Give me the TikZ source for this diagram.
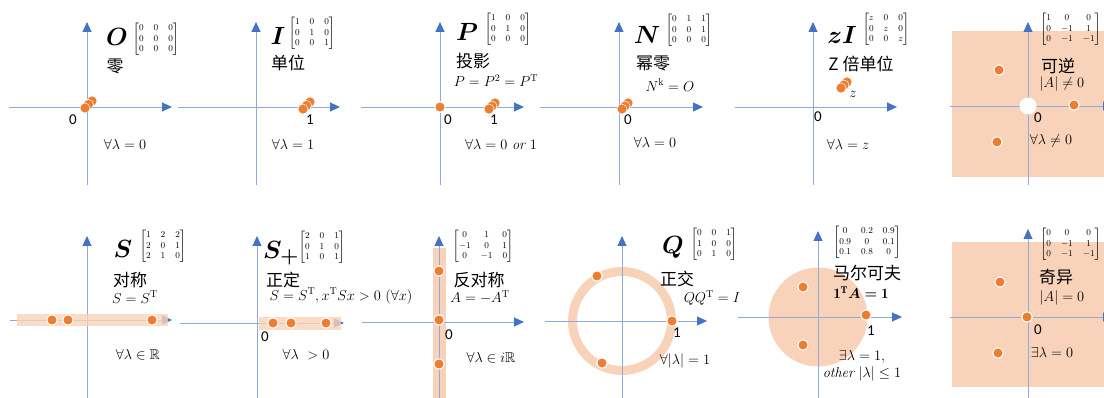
\documentclass[tikz,border=0pt]{standalone}
\usepackage{amsmath,amssymb,bm}
\usepackage{fontspec}
\newfontfamily\cjk{Noto Sans CJK SC}
\newfontfamily\lab{Carlito}
\usetikzlibrary{arrows.meta}
\definecolor{axline}{HTML}{8FAADC}
\definecolor{axtip}{HTML}{4472C4}
\definecolor{dotor}{HTML}{ED7D31}
\definecolor{peach}{HTML}{F8D3BA}
\tikzset{
 ax/.style={draw=axline, line width=0.9pt},
 axa/.style={ax, -{Triangle[length=10pt,width=9pt,color=axtip]}},
 eig/.style={circle, fill=dotor, draw=white, line width=1.1pt, minimum size=10.5pt, inner sep=0pt},
 eigc/.style={circle, fill=dotor, draw=white, line width=0.5pt, minimum size=10pt, inner sep=0pt},
 hole/.style={circle, fill=white, minimum size=17pt, inner sep=0pt},
 big/.style={font=\fontsize{30}{31}\selectfont, inner sep=0pt},
 mat/.style={font=\fontsize{9}{10.5}\selectfont, inner sep=0pt},
 zh/.style={font=\fontsize{17}{18}\selectfont\cjk, inner sep=0pt},
 frm/.style={font=\fontsize{14.3}{16}\selectfont, inner sep=0pt},
 num/.style={font=\fontsize{15}{16}\selectfont\lab, inner sep=0pt},
}
\begin{document}
\begin{tikzpicture}[x=1pt,y=-1pt]
\useasboundingbox (0,0) rectangle (1104,398);
\fill[white] (0,0) rectangle (1104,398);

% ---------- fills ----------
\fill[peach] (952,31) rectangle (1110,177);
\fill[peach] (952,242) rectangle (1110,387);
\fill[peach] (433,248) rectangle (446,398);
\draw[peach, line width=9pt] (622,321) circle[radius=49.5pt];
\fill[peach] (818,317) circle[radius=49.5pt];

% ---------- axes ----------
% row 1
\draw[axa] (9,107) -- (172,107);
\draw[axa] (87,185) -- (87,22);
\draw[axa] (256,185) -- (256,22);
\draw[axa] (178,107) -- (340,107);
\draw[axa] (440,185) -- (440,22);
\draw[axa] (361,107) -- (524,107);
\draw[axa] (619,185) -- (619,22);
\draw[axa] (540,107) -- (703,107);
\draw[axa] (813,185) -- (813,22);
\draw[axa] (735,107) -- (897,107);
\draw[axa] (1028,185) -- (1028,22);
\draw[axa] (950,106) -- (1113,106);
% row 2
\draw[axa] (87,398) -- (87,236);
\draw[axa] (10,320) -- (172,320);
\draw[axa] (257,398) -- (257,236);
\draw[axa] (180,323) -- (344,323);
\draw[axa] (439,398) -- (439,236);
\draw[axa] (362,322) -- (524,322);
\draw[axa] (622,398) -- (622,236);
\draw[axa] (545,321) -- (707,321);
\draw[axa] (818,398) -- (818,231);
\draw[axa] (738,317) -- (902,317);
\draw[axa] (1028,398) -- (1028,229);
\draw[axa] (950,317) -- (1113,317);

% translucent bands over the real axis
\fill[peach, fill opacity=0.8] (17,314) rectangle (168,326);
\fill[peach, fill opacity=0.8] (259,317) rectangle (341,330);

% ---------- panel O ----------
\node[big] (O) at (117,37) {$\bm{O}$};
\node[mat] (mO) at (156,39) {$\begin{bmatrix}0&0&0\\0&0&0\\0&0&0\end{bmatrix}$};
\node[zh] (zO) at (115,66) {零};
\node[eigc] (o3) at (92,101) {};
\node[eigc] (o2) at (88.5,104.5) {};
\node[eigc] (o1) at (85,108) {};
\node[num] (n0a) at (73,120) {0};
\node[frm] (fO) at (125,145) {$\forall\lambda=0$};

% ---------- panel I ----------
\node[big] (I) at (278,36) {$\bm{I}$};
\node[mat] (mI) at (312,33) {$\begin{bmatrix}1&0&0\\0&1&0\\0&0&1\end{bmatrix}$};
\node[zh] (zI1) at (288,63) {单位};
\node[eigc] (i3) at (310,102) {};
\node[eigc] (i2) at (306.5,105.5) {};
\node[eigc] (i1) at (303,109) {};
\node[num] (n1a) at (310,120) {1};
\node[frm] (fI) at (293,145) {$\forall\lambda=1$};

% ---------- panel P ----------
\node[big] (P) at (467,32) {$\bm{P}$};
\node[mat] (mP) at (508,29) {$\begin{bmatrix}1&0&0\\0&1&0\\0&0&0\end{bmatrix}$};
\node[zh] (zP) at (473,61) {投影};
\node[frm] (eP) at (496,81) {$P=P^2=P^{\mathrm{T}}$};
\node[eig] (p0) at (440,107) {};
\node[eigc] (p3) at (495,103) {};
\node[eigc] (p2) at (492,106) {};
\node[eigc] (p1) at (489,109) {};
\node[num] (n0b) at (448,120) {0};
\node[num] (n1b) at (494,120) {1};
\node[frm] (fP) at (501,145) {$\forall\lambda=0\ \mathit{or}\ 1$};

% ---------- panel N ----------
\node[big] (N) at (647,35) {$\bm{N}$};
\node[mat] (mN) at (689,30) {$\begin{bmatrix}0&1&1\\0&0&1\\0&0&0\end{bmatrix}$};
\node[zh] (zN) at (653,63) {幂零};
\node[frm] (eN) at (670,85) {$N^{\mathrm{k}}=O$};
\node[eigc] (m3) at (628,103) {};
\node[eigc] (m2) at (625,106) {};
\node[eigc] (m1) at (622,109) {};
\node[num] (n0c) at (628,120) {0};
\node[frm] (fN) at (655,143) {$\forall\lambda=0$};

% ---------- panel zI ----------
\node[big] (zI) at (842,35) {$\bm{zI}$};
\node[mat] (mZ) at (886,29) {$\begin{bmatrix}z&0&0\\0&z&0\\0&0&z\end{bmatrix}$};
\node[zh] (zZ) at (861,64) {Z 倍单位};
\node[eigc] (z3) at (847,82) {};
\node[eigc] (z2) at (844,85) {};
\node[eigc] (z1) at (841,88) {};
\node[frm] (zl) at (853,94) {$z$};
\node[num] (n0d) at (818,117) {0};
\node[frm] (fZ) at (848,145) {$\forall\lambda=z$};

% ---------- panel invertible ----------
\node[hole] (h0) at (1028,106) {};
\node[eig] (v1) at (999,70) {};
\node[eig] (v2) at (1074,105) {};
\node[eig] (v3) at (997,142) {};
\node[mat, anchor=west] (mV) at (1040,29) {$\begin{bmatrix}1&0&0\\0&-1&1\\0&-1&-1\end{bmatrix}$};
\node[zh] (zV) at (1058,66) {可逆};
\node[frm] (eV) at (1062,84) {$|A|\neq0$};
\node[num] (n0e) at (1038,118) {0};
\node[frm] (fV) at (1051,141) {$\forall\lambda\neq0$};

% ---------- panel S ----------
\node[big] (S) at (123,249) {$\bm{S}$};
\node[mat] (mS) at (163,246) {$\begin{bmatrix}1&2&2\\2&0&1\\2&1&0\end{bmatrix}$};
\node[zh] (zS) at (130,280) {对称};
\node[frm] (eS) at (135,297) {$S=S^{\mathrm{T}}$};
\node[eig] (s1) at (52,320) {};
\node[eig] (s2) at (68,320) {};
\node[eig] (s3) at (152,320) {};
\node[frm] (fS) at (138,355) {$\forall\lambda\in\mathbb{R}$};

% ---------- panel S+ ----------
\node[big] (Sp) at (281,253) {$\bm{S}_{\bm{+}}$};
\node[mat] (mSp) at (322,247) {$\begin{bmatrix}2&0&1\\0&1&0\\1&0&1\end{bmatrix}$};
\node[zh] (zSp) at (283,280) {正定};
\node[frm] (eSp) at (341,296) {$S=S^{\mathrm{T}},x^{\mathrm{T}}Sx>0\ (\forall x)$};
\node[eig] (q1) at (273,323) {};
\node[eig] (q2) at (291,323) {};
\node[eig] (q3) at (326,323) {};
\node[num] (n0f) at (265,337) {0};
\node[frm] (fSp) at (306,355) {$\forall\lambda\ >0$};

% ---------- panel antisymmetric ----------
\node[mat] (mA) at (483,246) {$\begin{bmatrix}0&1&0\\-1&0&1\\0&-1&0\end{bmatrix}$};
\node[zh] (zA) at (479,280) {反对称};
\node[frm] (eA) at (480,297) {$A=-A^{\mathrm{T}}$};
\node[eig] (a1) at (439,271) {};
\node[eig] (a2) at (439,320) {};
\node[eig] (a3) at (439,364) {};
\node[num] (n0g) at (449,335) {0};
\node[frm] (fA) at (491,358) {$\forall\lambda\in i\mathbb{R}$};

% ---------- panel Q ----------
\node[big] (Q) at (673,247) {$\bm{Q}$};
\node[mat] (mQ) at (714,244) {$\begin{bmatrix}0&0&1\\1&0&0\\0&1&0\end{bmatrix}$};
\node[zh] (zQ) at (677,279) {正交};
\node[frm] (eQ) at (712,298) {$QQ^{\mathrm{T}}=I$};
\node[eig] (c1) at (597,276) {};
\node[eig] (c2) at (672,321) {};
\node[eig] (c3) at (602,363) {};
\node[num] (n1c) at (677,333) {1};
\node[frm] (fQ) at (685,361) {$\forall|\lambda|=1$};

% ---------- panel Markov ----------
\node[mat] (mM) at (867,242) {$\begin{bmatrix}0&0.2&0.9\\0.9&0&0.1\\0.1&0.8&0\end{bmatrix}$};
\node[zh] (zM) at (867,273) {马尔可夫};
\node[frm] (eM) at (861,293) {$\mathbf{1}^{\mathbf{T}}\bm{A}\bm{=}\mathbf{1}$};
\node[eig] (k1) at (803,287) {};
\node[eig] (k2) at (866,315) {};
\node[eig] (k3) at (803,345) {};
\node[num] (n1d) at (871,331) {1};
\node[frm] (fM1) at (862,357) {$\exists\lambda=1,$};
\node[frm] (fM2) at (862,374) {$\mathit{other}\ |\lambda|\le1$};

% ---------- panel singular ----------
\node[mat, anchor=west] (mG) at (1040,244) {$\begin{bmatrix}0&0&0\\0&-1&1\\0&-1&-1\end{bmatrix}$};
\node[zh] (zG) at (1056,277) {奇异};
\node[frm] (eG) at (1062,298) {$|A|=0$};
\node[eig] (g1) at (1000,282) {};
\node[eig] (g2) at (1027,317) {};
\node[eig] (g3) at (998,353) {};
\node[num] (n0h) at (1038,330) {0};
\node[frm] (fG) at (1052,352) {$\exists\lambda=0$};
\end{tikzpicture}
\end{document}
